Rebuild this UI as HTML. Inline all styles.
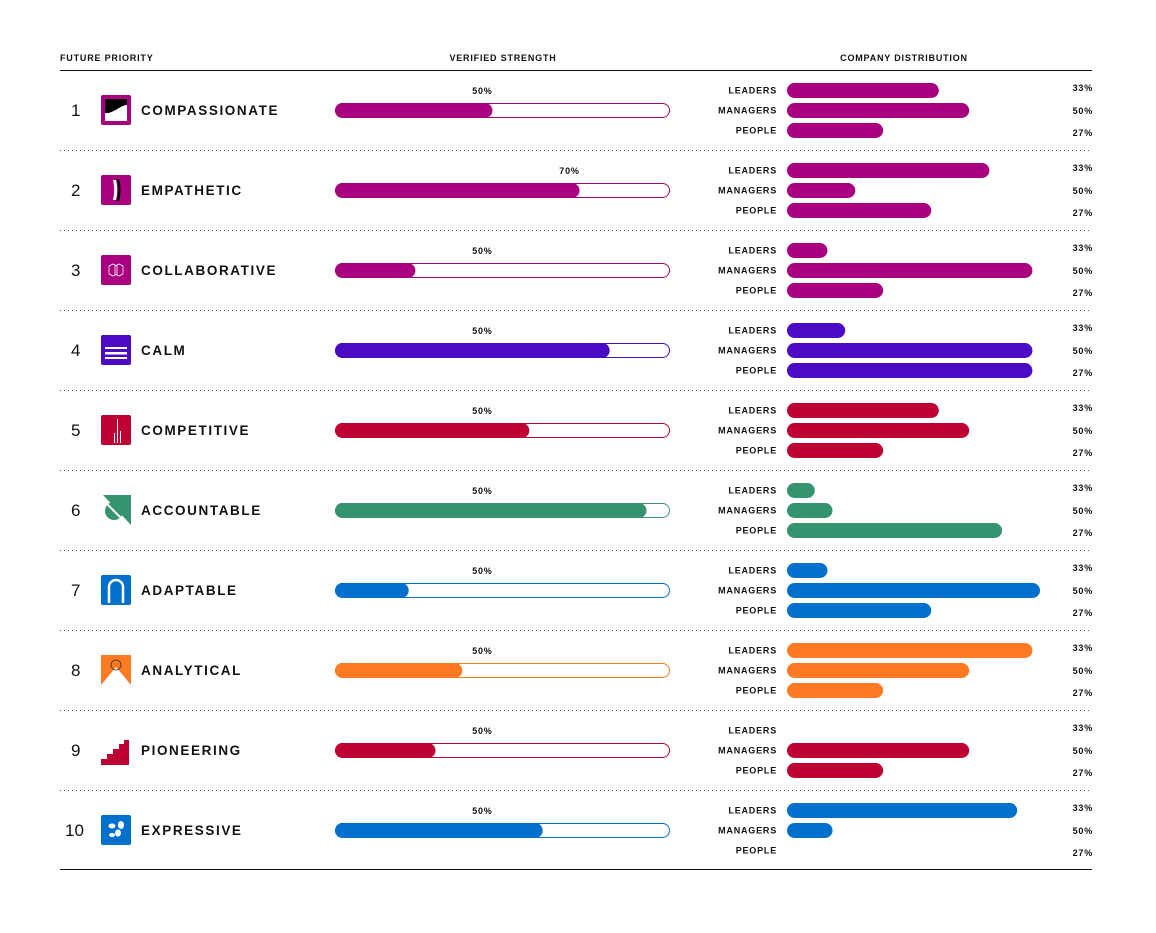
<!DOCTYPE html>
<html><head><meta charset="utf-8">
<style>
body{margin:0;background:#fff;font-family:"Liberation Sans",sans-serif;}
svg text{font-family:"Liberation Sans",sans-serif;}
</style></head>
<body>
<svg id="c" width="1156" height="928" viewBox="0 0 1156 928" xmlns="http://www.w3.org/2000/svg">
<text x="60" y="61" font-size="9" font-weight="bold" letter-spacing="0.8" fill="#111">FUTURE PRIORITY</text>
<text x="503" y="61" font-size="9" font-weight="bold" letter-spacing="0.8" fill="#111" text-anchor="middle">VERIFIED STRENGTH</text>
<text x="904" y="61" font-size="9" font-weight="bold" letter-spacing="0.8" fill="#111" text-anchor="middle">COMPANY DISTRIBUTION</text>
<line x1="60" y1="70.5" x2="1092" y2="70.5" stroke="#111" stroke-width="1"/>
<line x1="60" y1="869.5" x2="1092" y2="869.5" stroke="#111" stroke-width="1"/>
<g id="rows"></g>
</svg>
<script>
const names=["COMPASSIONATE","EMPATHETIC","COLLABORATIVE","CALM","COMPETITIVE","ACCOUNTABLE","ADAPTABLE","ANALYTICAL","PIONEERING","EXPRESSIVE"];
const colors=["#A8007F","#A8007F","#A8007F","#4B0AC4","#BE0032","#35946F","#0070CC","#FF7A22","#BE0032","#0070CC"];
const strength=[47,73,24,82,58,93,22,38,30,62];
const strengthLabels=["50%","70%","50%","50%","50%","50%","50%","50%","50%","50%"];
const labelAt=[44,70,44,44,44,44,44,44,44,44];
const leaders=[60,80,16,23,60,11,16,97,0,91];
const managers=[72,27,97,97,72,18,100,72,72,18];
const people=[38,57,38,97,38,85,57,38,38,0];
const groupLabels=["LEADERS","MANAGERS","PEOPLE"];
const groupPct=["33%","50%","27%"];

const NS="http://www.w3.org/2000/svg";
const g=document.getElementById('rows');
function el(t,a,p){const e=document.createElementNS(NS,t);for(const k in a)e.setAttribute(k,a[k]);(p||g).appendChild(e);return e;}
const xS=v=>335+v/100*335;
const xD=v=>787+v/100*253;
const icons=[
 c=>`<rect width="30" height="30" rx="2" fill="${c}"/><rect x="4" y="4" width="22" height="22" fill="#fff"/><path d="M4 4h22v6c-6 0-10 6-19 8H4z" fill="#000"/>`,
 c=>`<rect width="30" height="30" rx="2" fill="${c}"/><path d="M15 4c3 5 3 17 0 22h3c2-6 2-16 0-22z" fill="#000"/><path d="M12 5c1.5 6 1.5 14 0 20h3c1.5-6 1.5-14 0-20z" fill="#fff"/>`,
 c=>`<rect width="30" height="30" rx="2" fill="${c}"/><g fill="none" stroke="#fff" stroke-width="0.8"><path d="M12 9l4 2v8l-4 2-4-2v-8z"/><path d="M18 9l4 2v8l-4 2-4-2v-8z"/></g>`,
 c=>`<rect width="30" height="30" rx="2" fill="${c}"/><rect x="4" y="12" width="22" height="2" fill="#fff"/><rect x="4" y="17" width="22" height="2.5" fill="#fff"/><rect x="4" y="22" width="22" height="2" fill="#fff"/>`,
 c=>`<rect width="30" height="30" rx="2" fill="${c}"/><rect x="16" y="4" width="1" height="24" fill="#fff"/><rect x="13" y="18" width="1" height="10" fill="#fff"/><rect x="19" y="16" width="1" height="12" fill="#fff"/>`,
 c=>`<path d="M2 0h28v30z" fill="${c}"/><circle cx="13" cy="16" r="9" fill="${c}"/><path d="M5 8l22 22" stroke="#fff" stroke-width="2"/>`,
 c=>`<rect width="30" height="30" rx="2" fill="${c}"/><path d="M8 28V12a7 7 0 0 1 14 0v16" fill="none" stroke="#fff" stroke-width="2.5"/>`,
 c=>`<path d="M0 0h30v30L15 12 0 30z" fill="${c}"/><circle cx="15" cy="10" r="5" fill="none" stroke="#333" stroke-width="0.8"/>`,
 c=>`<path d="M28 0v30H0v-6h6v-5h6v-5h6v-5h5V5h5z" fill="${c}"/>`,
 c=>`<rect width="30" height="30" rx="2" fill="${c}"/><ellipse cx="11" cy="11" rx="3.5" ry="2.5" fill="#fff"/><ellipse cx="20" cy="10" rx="3" ry="4" fill="#fff"/><ellipse cx="17" cy="18" rx="3" ry="3.5" fill="#fff"/><ellipse cx="11" cy="20" rx="3" ry="2" fill="#fff"/>`
];
names.forEach((n,i)=>{
  const cy=110+80*i, c=colors[i];
  const row=el('g',{});
  
  
  const num=el('text',{x:i==9?65:71,y:cy+6,'font-size':17,fill:'#111'},row);num.textContent=i+1;
  
  
  const ic=el('g',{transform:`translate(101,${cy-15})`},row);ic.innerHTML=icons[i](c);
  
  
  const nm=el('text',{x:141,y:cy+5,'font-size':13.5,'font-weight':'bold','letter-spacing':'1.6',fill:'#111'},row);nm.textContent=n;
  
  
  const tr=el('rect',{x:335.5,y:cy-6.5,width:334,height:14,rx:7,fill:'#fff',stroke:c,'stroke-width':1},row);
  
  
  const f=el('rect',{x:335,y:cy-7,width:xS(strength[i])-335,height:15,rx:7.5,fill:c},row);
  
  
  const sl=el('text',{x:xS(labelAt[i]),y:cy-16,'font-size':9,'font-weight':'bold','letter-spacing':'0.8',fill:'#111','text-anchor':'middle'},row);sl.textContent=strengthLabels[i];
  
  
  if(i<9){const d=el('line',{x1:60,y1:cy+40.5,x2:1092,y2:cy+40.5,stroke:'#555','stroke-width':1,'stroke-dasharray':'1 3'},row);
    
    }
  const vals=[leaders[i],managers[i],people[i]];
  vals.forEach((v,k)=>{
    const by=cy-20+20*k;
    const gl=el('text',{x:777,y:by+3.5,'font-size':9,'font-weight':'bold','letter-spacing':'0.8',fill:'#111','text-anchor':'end'},row);gl.textContent=groupLabels[k];
    
    
    if(v>0){const b=el('rect',{x:787,y:by-7,width:xD(v)-787,height:15,rx:7.5,fill:c},row);
      
      }
    const p=el('text',{x:1093,y:[cy-19,cy+4,cy+26][k],'font-size':9,'font-weight':'bold','letter-spacing':'0.8',fill:'#111','text-anchor':'end'},row);p.textContent=groupPct[k];
    
    
  });
});
</script>
</body></html>
